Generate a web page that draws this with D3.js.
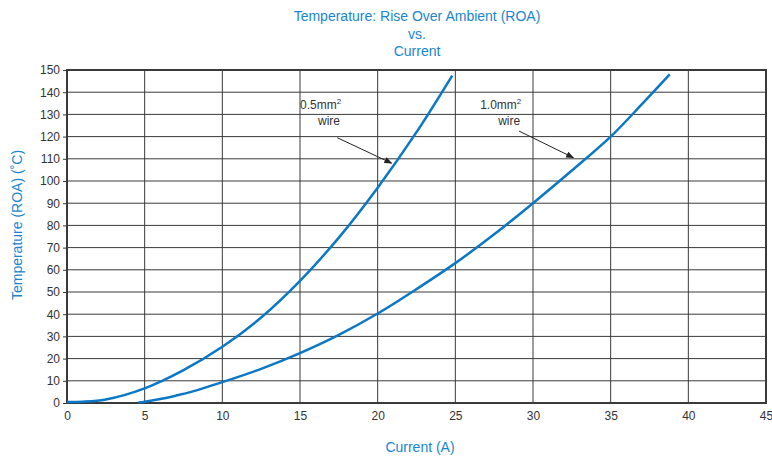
<!DOCTYPE html>
<html>
<head>
<meta charset="utf-8">
<script src="https://cdn.jsdelivr.net/npm/d3@7"></script>
<style>
  body { margin: 0; background: #fff; }
  text { font-family: "Liberation Sans Narrow", "Liberation Sans", Arial, sans-serif; }
</style>
</head>
<body>
<div class="chart"></div>
<script>
// data
var wire05X = [0, 1, 2.5, 5, 7.5, 10, 12.5, 15, 17.5, 20, 22.5, 24.8];
var wire05Y = [0.5, 0.6, 1.6, 6.6, 14.8, 25.3, 38.5, 55, 74.5, 97, 122, 147.5];
var wire10X = [4.6, 5, 6, 7, 8, 10, 12.5, 15, 17.5, 20, 22.5, 25, 27.5, 30, 32.5, 35, 37, 38.8];
var wire10Y = [0.2, 0.6, 1.8, 3.3, 5.0, 9.4, 15.4, 22.5, 30.7, 40.3, 51.3, 63, 76, 90, 104.7, 120, 134.5, 148];
var xTicks = [0, 5, 10, 15, 20, 25, 30, 35, 40, 45];
var yTicks = [0, 10, 20, 30, 40, 50, 60, 70, 80, 90, 100, 110, 120, 130, 140, 150];
var titleLines = ["Temperature: Rise Over Ambient (ROA)", "vs.", "Current"];

var svgWidth = 772, svgHeight = 456;
var margin = { top: 70, right: 6, bottom: 53, left: 67 };
var width = svgWidth - margin.left - margin.right;
var height = svgHeight - margin.top - margin.bottom;
var blue = "#1886cf";
var lineBlue = "#0a78c6";

var svg = d3.select(".chart").append("svg")
  .attr("width", svgWidth)
  .attr("height", svgHeight);

var defs = svg.append("defs");
defs.append("marker")
  .attr("id", "arrow")
  .attr("viewBox", "0 0 10 10")
  .attr("refX", 9).attr("refY", 5)
  .attr("markerWidth", 8).attr("markerHeight", 8)
  .attr("orient", "auto")
  .append("path")
  .attr("d", "M0,1 L10,5 L0,9 z")
  .attr("fill", "#222");

var chartGroup = svg.append("g")
  .attr("transform", `translate(${margin.left}, ${margin.top})`);

var xScale = d3.scaleLinear().domain([0, 45]).range([0, width]);
var yScale = d3.scaleLinear().domain([0, 150]).range([height, 0]);

// grid
chartGroup.append("g")
  .selectAll("line")
  .data(xTicks)
  .enter().append("line")
  .attr("x1", d => xScale(d)).attr("x2", d => xScale(d))
  .attr("y1", 0).attr("y2", height)
  .attr("stroke", "#3a3a3a").attr("stroke-width", 1);

chartGroup.append("g")
  .selectAll("line")
  .data(yTicks)
  .enter().append("line")
  .attr("x1", 0).attr("x2", width)
  .attr("y1", d => yScale(d)).attr("y2", d => yScale(d))
  .attr("stroke", "#3a3a3a").attr("stroke-width", 1);

// border
chartGroup.append("rect")
  .attr("width", width).attr("height", height)
  .attr("fill", "none").attr("stroke", "#3a3a3a").attr("stroke-width", 2);

// axes
var xAxis = d3.axisBottom(xScale).tickValues(xTicks).tickSize(0).tickPadding(8);
var yAxis = d3.axisLeft(yScale).tickValues(yTicks).tickSize(4).tickPadding(3);

var gx = chartGroup.append("g")
  .attr("transform", `translate(0, ${height})`)
  .call(xAxis);
var gy = chartGroup.append("g").call(yAxis);
[gx, gy].forEach(function(g) {
  g.select(".domain").remove();
  g.selectAll("text").attr("font-size", 12).attr("fill", "#333")
    .style("font-family", "'Liberation Sans', Arial, sans-serif");
  g.selectAll("line").attr("stroke", "#3a3a3a");
});

// curves
var line = d3.line()
  .x(d => xScale(d[0]))
  .y(d => yScale(d[1]))
  .curve(d3.curveCatmullRom.alpha(0.5));

[[wire05X, wire05Y], [wire10X, wire10Y]].forEach(function(s) {
  chartGroup.append("path")
    .datum(s[0].map((x, i) => [x, s[1][i]]))
    .attr("d", line)
    .attr("fill", "none")
    .attr("stroke", lineBlue)
    .attr("stroke-width", 2.5);
});

// annotations
function note(x, y, label, ax1, ay1, ax2, ay2) {
  var t = chartGroup.append("text")
    .attr("x", xScale(x)).attr("y", yScale(y))
    .attr("font-size", 12).attr("fill", "#333")
    .style("font-family", "'Liberation Sans', Arial, sans-serif");
  t.append("tspan").text(label);
  t.append("tspan").attr("dy", -5).attr("font-size", 8).text("2");
  chartGroup.append("text")
    .attr("x", xScale(x) + 18).attr("y", yScale(y) + 16)
    .attr("font-size", 12).attr("fill", "#333")
    .style("font-family", "'Liberation Sans', Arial, sans-serif")
    .text("wire");
  chartGroup.append("line")
    .attr("x1", xScale(ax1)).attr("y1", yScale(ay1))
    .attr("x2", xScale(ax2)).attr("y2", yScale(ay2))
    .attr("stroke", "#222").attr("stroke-width", 1)
    .attr("marker-end", "url(#arrow)");
}
note(15, 132.5, "0.5mm", 17.4, 119.5, 20.9, 108);
note(26.6, 132.5, "1.0mm", 29.1, 122.5, 32.6, 110.5);

// titles
svg.append("g").selectAll("text")
  .data(titleLines)
  .enter().append("text")
  .attr("x", 417)
  .attr("y", (d, i) => [21, 39, 56][i])
  .attr("text-anchor", "middle")
  .attr("font-size", 14)
  .attr("fill", blue)
  .text(d => d);

svg.append("text")
  .attr("x", 420).attr("y", 452)
  .attr("text-anchor", "middle")
  .attr("font-size", 14).attr("fill", blue)
  .text("Current (A)");

svg.append("text")
  .attr("transform", "rotate(-90)")
  .attr("x", -225).attr("y", 22)
  .attr("text-anchor", "middle")
  .attr("font-size", 14).attr("fill", blue)
  .text("Temperature (ROA) (˚C)");
</script>
</body>
</html>
